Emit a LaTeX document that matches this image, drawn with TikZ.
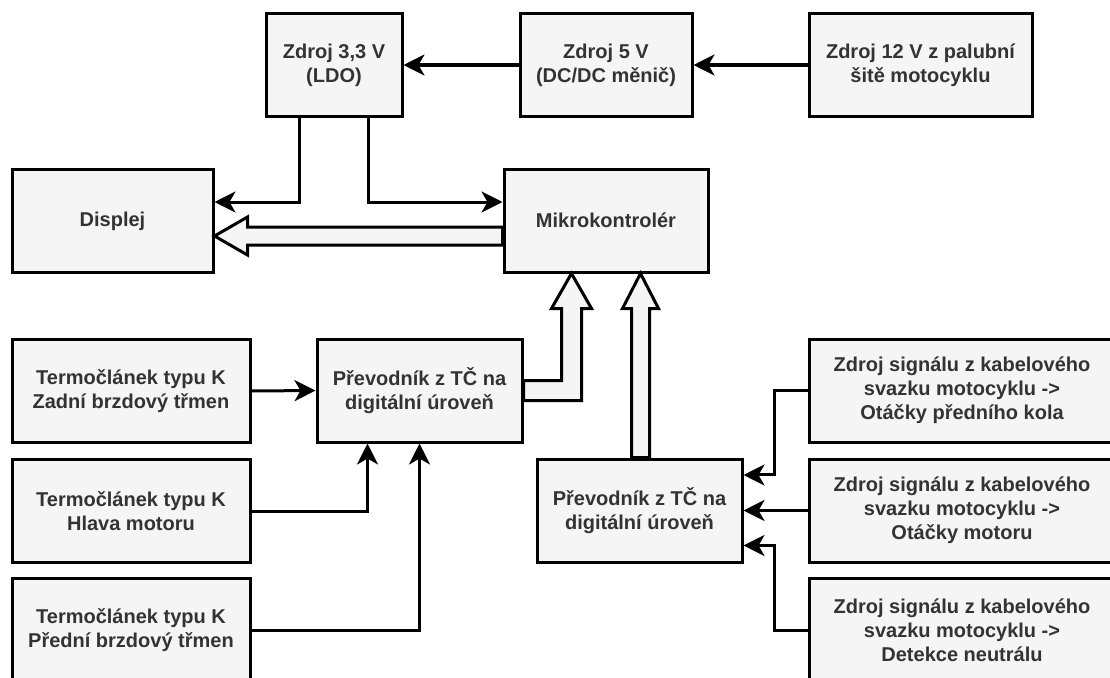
\documentclass[tikz,border=0pt]{standalone}
\usepackage{fontspec}
\setmainfont{Liberation Sans}
\usepackage{tikz}
\usetikzlibrary{arrows.meta,calc}
\definecolor{boxfill}{HTML}{F5F5F5}
\definecolor{boxtext}{HTML}{333333}

\begin{document}
\begin{tikzpicture}[x=1pt,y=-1pt,
  font=\fontsize{20}{24}\selectfont\bfseries,
  b/.style={draw,line width=3pt,fill=boxfill,text=boxtext,align=center,inner sep=2pt,minimum height=103pt},
  arr/.style={line width=3pt,-{Stealth[length=21pt,width=21pt,inset=6pt]}},
  hollow/.style={draw,line width=3pt,fill=boxfill,line join=miter}]
\clip (0,0) rectangle (1110,677);
% ---- napajeni ----
\node[b,minimum width=136pt] (ldo) at (334,65)   {Zdroj 3,3 V\\(LDO)};
\node[b,minimum width=172pt] (v5)  at (606,65)   {Zdroj 5 V\\(DC/DC měnič)};
\node[b,minimum width=223pt] (v12) at (920.5,65) {Zdroj 12 V z palubní\\šitě motocyklu};
\draw[arr] (v12.west) -- (v5.east);
\draw[arr] (v5.west) -- (ldo.east);
% ---- displej a MCU ----
\node[b,minimum width=201pt] (disp) at (112.5,221) {Displej};
\node[b,minimum width=204pt] (mcu)  at (606,220.5) {Mikrokontrolér};
\draw[arr] ($(ldo.south west)!.25!(ldo.south east)$) |- ($(disp.east)+(0,-19)$);
\draw[arr] ($(ldo.south west)!.75!(ldo.south east)$) |- ($(mcu.west)+(0,-18.5)$);
\coordinate (hA) at ($(mcu.west)+(0,15.5)$);
\draw[hollow] ($(hA)+(0,-9)$) -- ($(disp.east|-hA)+(33,-9)$) -- ++(0,-10) -- (disp.east|-hA)
  -- ++(33,19) -- ++(0,-10) -- ($(hA)+(0,9)$) -- cycle;
% ---- termoclanky ----
\node[b,minimum width=238pt] (t1) at (131,391) {Termočlánek typu K\\Zadní brzdový třmen};
\node[b,minimum width=238pt] (t2) at (131,511) {Termočlánek typu K\\Hlava motoru};
\node[b,minimum width=238pt] (t3) at (131,630) {Termočlánek typu K\\Přední brzdový třmen};
\node[b,minimum width=205pt] (conv1) at (419.5,390.5) {Převodník z TČ na\\digitální úroveň};
\draw[arr] (t1.east) -- (conv1.west);
\draw[arr] (t2.east) -| ($(conv1.south west)!.25!(conv1.south east)$);
\draw[arr] (t3.east) -| (conv1.south);
\coordinate (tB) at ($(mcu.south west)!1/3!(mcu.south east)$);
\draw[hollow] ($(conv1.east)+(0,-10)$) -- ($(tB|-conv1.east)+(-10,-10)$) -- ($(tB)+(-10,35)$)
  -- ++(-10,0) -- (tB) -- ++(20,35) -- ++(-10,0) -- ($(tB|-conv1.east)+(10,10)$)
  -- ($(conv1.east)+(0,10)$) -- cycle;
% ---- signaly z kabelaze ----
\node[b,minimum width=306pt] (s1) at (962,390.5) {Zdroj signálu z kabelového\\svazku motocyklu ->\\Otáčky předního kola};
\node[b,minimum width=306pt] (s2) at (962,510.5) {Zdroj signálu z kabelového\\svazku motocyklu ->\\Otáčky motoru};
\node[b,minimum width=306pt] (s3) at (962,630)   {Zdroj signálu z kabelového\\svazku motocyklu ->\\Detekce neutrálu};
\node[b,minimum width=205pt] (conv2) at (639.5,510.5) {Převodník z TČ na\\digitální úroveň};
\draw[arr] (s1.west) -- ++(-33.5,0) |- ($(conv2.north east)!.165!(conv2.south east)$);
\draw[arr] (s2.west) -- (conv2.east);
\draw[arr] (s3.west) -- ++(-33.5,0) |- ($(conv2.north east)!.83!(conv2.south east)$);
\coordinate (tC) at ($(mcu.south west)!2/3!(mcu.south east)$);
\draw[hollow] ($(tC|-conv2.north)+(-9,0)$) -- ($(tC)+(-9,35)$) -- ++(-9,0) -- (tC)
  -- ++(18,35) -- ++(-9,0) -- ($(tC|-conv2.north)+(9,0)$) -- cycle;
\end{tikzpicture}
\end{document}
